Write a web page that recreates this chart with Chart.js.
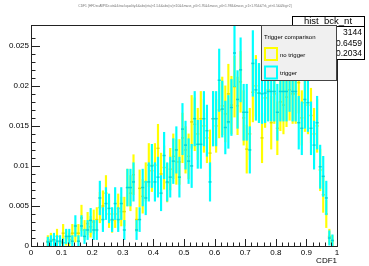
<!DOCTYPE html>
<html>
<head>
<meta charset="utf-8">
<script src="https://cdn.jsdelivr.net/npm/chart.js@4/dist/chart.umd.min.js"></script>
<style>
  html, body { margin: 0; padding: 0; background: #fff; }
</style>
</head>
<body>
<canvas id="cdf1" width="369" height="266"></canvas>
<script>
// bin centres of the 100-bin CDF1 histogram
const binCenters = [
  0.005, 0.015, 0.025, 0.035, 0.045, 0.055, 0.065, 0.075, 0.085, 0.095,
  0.105, 0.115, 0.125, 0.135, 0.145, 0.155, 0.165, 0.175, 0.185, 0.195,
  0.205, 0.215, 0.225, 0.235, 0.245, 0.255, 0.265, 0.275, 0.285, 0.295,
  0.305, 0.315, 0.325, 0.335, 0.345, 0.355, 0.365, 0.375, 0.385, 0.395,
  0.405, 0.415, 0.425, 0.435, 0.445, 0.455, 0.465, 0.475, 0.485, 0.495,
  0.505, 0.515, 0.525, 0.535, 0.545, 0.555, 0.565, 0.575, 0.585, 0.595,
  0.605, 0.615, 0.625, 0.635, 0.645, 0.655, 0.665, 0.675, 0.685, 0.695,
  0.705, 0.715, 0.725, 0.735, 0.745, 0.755, 0.765, 0.775, 0.785, 0.795,
  0.805, 0.815, 0.825, 0.835, 0.845, 0.855, 0.865, 0.875, 0.885, 0.895,
  0.905, 0.915, 0.925, 0.935, 0.945, 0.955, 0.965, 0.975, 0.985, 0.995
];

// "no trigger" (yellow)
const noTrigger = [
  null, null, null, null, null, 0.0006, 0.0008, 0.0007, 0.0012, 0.0004,
  0.0016, 0.0010, 0.0008, 0.0016, 0.0016, 0.0016, 0.0035, 0.0020, 0.0028, 0.0024,
  0.0030, 0.0033, 0.0048, 0.0050, 0.0066, 0.0040, 0.0032, 0.0040, 0.0047, 0.0043,
  0.0043, 0.0073, 0.0066, 0.0089, 0.0033, 0.0072, 0.0062, 0.0080, 0.0101, 0.0094,
  0.0101, 0.0122, 0.0090, 0.0098, 0.0079, 0.0096, 0.0112, 0.0105, 0.0105, 0.0135,
  0.0120, 0.0112, 0.0155, 0.0152, 0.0140, 0.0159, 0.0150, 0.0135, 0.0116, 0.0159,
  0.0150, 0.0170, 0.0175, 0.0165, 0.0190, 0.0176, 0.0199, 0.0175, 0.0205, 0.0160,
  0.0121, 0.0140, 0.0192, 0.0200, 0.0191, 0.0135, 0.0185, 0.0195, 0.0154, 0.0190,
  0.0147, 0.0180, 0.0176, 0.0186, 0.0195, 0.0190, 0.0190, 0.0204, 0.0160, 0.0179,
  0.0176, 0.0163, 0.0140, 0.0150, 0.0095, 0.0064, 0.0040, 0.0012, 0.0006, null
];
const noTriggerErr = [
  0, 0, 0, 0, 0, 0.0007, 0.0008, 0.0007, 0.0009, 0.0005,
  0.0011, 0.0009, 0.0008, 0.0011, 0.0011, 0.0011, 0.0016, 0.0012, 0.0014, 0.0013,
  0.0015, 0.0015, 0.0019, 0.0019, 0.0022, 0.0017, 0.0015, 0.0017, 0.0018, 0.0018,
  0.0018, 0.0023, 0.0022, 0.0025, 0.0015, 0.0023, 0.0021, 0.0024, 0.0027, 0.0026,
  0.0027, 0.0030, 0.0026, 0.0027, 0.0024, 0.0026, 0.0028, 0.0028, 0.0028, 0.0031,
  0.0029, 0.0028, 0.0033, 0.0033, 0.0032, 0.0034, 0.0033, 0.0031, 0.0029, 0.0034,
  0.0033, 0.0035, 0.0036, 0.0035, 0.0037, 0.0036, 0.0038, 0.0036, 0.0038, 0.0034,
  0.0030, 0.0032, 0.0037, 0.0038, 0.0037, 0.0031, 0.0037, 0.0038, 0.0033, 0.0037,
  0.0033, 0.0036, 0.0036, 0.0037, 0.0038, 0.0037, 0.0037, 0.0038, 0.0034, 0.0036,
  0.0036, 0.0034, 0.0032, 0.0033, 0.0026, 0.0022, 0.0017, 0.0009, 0.0007, 0
];

// "trigger" (cyan)
const trigger = [
  null, null, null, null, null, 0.0005, 0.0006, 0.0008, 0.0006, 0.0006,
  0.0004, 0.0012, 0.0012, 0.0006, 0.0025, 0.0006, 0.0025, 0.0012, 0.0020, 0.0032,
  0.0020, 0.0020, 0.0060, 0.0033, 0.0053, 0.0047, 0.0033, 0.0053, 0.0033, 0.0053,
  0.0020, 0.0073, 0.0073, 0.0080, 0.0020, 0.0033, 0.0073, 0.0060, 0.0080, 0.0100,
  0.0080, 0.0086, 0.0066, 0.0113, 0.0080, 0.0086, 0.0106, 0.0120, 0.0086, 0.0146,
  0.0126, 0.0106, 0.0100, 0.0159, 0.0127, 0.0127, 0.0159, 0.0144, 0.0080, 0.0159,
  0.0159, 0.0207, 0.0171, 0.0148, 0.0155, 0.0173, 0.0241, 0.0183, 0.0220, 0.0167,
  0.0167, 0.0120, 0.0228, 0.0195, 0.0191, 0.0190, 0.0191, 0.0193, 0.0193, 0.0193,
  0.0167, 0.0193, 0.0193, 0.0193, 0.0207, 0.0193, 0.0193, 0.0154, 0.0147, 0.0183,
  0.0179, 0.0147, 0.0126, 0.0154, 0.0099, 0.0087, 0.0060, 0.0010, 0.0007, null
];
const triggerErr = [
  0, 0, 0, 0, 0, 0.0006, 0.0007, 0.0008, 0.0007, 0.0007,
  0.0005, 0.0009, 0.0009, 0.0007, 0.0013, 0.0007, 0.0013, 0.0009, 0.0012, 0.0015,
  0.0012, 0.0012, 0.0021, 0.0015, 0.0020, 0.0018, 0.0015, 0.0020, 0.0015, 0.0020,
  0.0012, 0.0023, 0.0023, 0.0024, 0.0012, 0.0015, 0.0023, 0.0021, 0.0024, 0.0027,
  0.0024, 0.0025, 0.0022, 0.0029, 0.0024, 0.0025, 0.0028, 0.0029, 0.0025, 0.0032,
  0.0030, 0.0028, 0.0027, 0.0034, 0.0030, 0.0030, 0.0034, 0.0032, 0.0024, 0.0034,
  0.0034, 0.0039, 0.0035, 0.0033, 0.0033, 0.0035, 0.0042, 0.0036, 0.0040, 0.0035,
  0.0035, 0.0029, 0.0041, 0.0038, 0.0037, 0.0037, 0.0037, 0.0037, 0.0037, 0.0037,
  0.0035, 0.0037, 0.0037, 0.0037, 0.0039, 0.0037, 0.0037, 0.0033, 0.0033, 0.0036,
  0.0036, 0.0033, 0.0030, 0.0033, 0.0027, 0.0025, 0.0021, 0.0009, 0.0007, 0
];

const statsName = 'hist_bck_nt';
const statsRows = [['Entries', '3144'], ['Mean', '0.6459'], ['Std Dev', '0.2034']];
const legendTitle = 'Trigger comparison';
const plotTitle = 'CDF1 {HFDecAllPIDcuts&&trackquality&&abs(eta)<1.5&&abs(vz)<10&&mass_p0>1.95&&mass_p0<1.98&&mass_p1>1.95&&Trk_pt>0.5&&Sig>2}';

const FONT = "'Liberation Sans', Arial, Helvetica, sans-serif";

function isMult(v, s) {
    return Math.abs(v / s - Math.round(v / s)) < 1e-6;
}

// error bars as floating bars, centre values as short horizontal markers
function errBars(vals, errs) {
    const out = [];
    vals.forEach((v, i) => {
        if (v !== null) out.push({ x: binCenters[i], y: [v - errs[i], v + errs[i]] });
    });
    return out;
}
function centres(vals) {
    const out = [];
    vals.forEach((v, i) => {
        if (v !== null) out.push({ x: binCenters[i], y: v });
    });
    return out;
}

// ROOT-ish look: inward ticks, frame, title, stats box and legend
const rootLook = {
    id: 'rootLook',
    afterDatasetsDraw(chart) {
        const ctx = chart.ctx, a = chart.chartArea;
        const xs = chart.scales.x, ys = chart.scales.y;
        ctx.save();
        ctx.strokeStyle = '#222';
        ctx.lineWidth = 1;

        xs.ticks.forEach(t => {
            if (!isMult(t.value, 0.02)) return;
            const px = Math.round(xs.getPixelForValue(t.value)) + 0.5;
            const len = isMult(t.value, 0.1) ? 7 : 3.5;
            ctx.beginPath();
            ctx.moveTo(px, a.bottom);
            ctx.lineTo(px, a.bottom - len);
            ctx.stroke();
        });
        ys.ticks.forEach(t => {
            if (!isMult(t.value, 0.001)) return;
            const py = Math.round(ys.getPixelForValue(t.value)) + 0.5;
            const len = isMult(t.value, 0.005) ? 9 : 4.5;
            ctx.beginPath();
            ctx.moveTo(a.left, py);
            ctx.lineTo(a.left + len, py);
            ctx.stroke();
        });
        ctx.strokeRect(a.left + 0.5, a.top + 0.5, a.right - a.left, a.bottom - a.top);
        ctx.restore();
    },
    afterDraw(chart) {
        const ctx = chart.ctx;
        ctx.save();

        // title
        ctx.fillStyle = '#777';
        ctx.font = '3.3px ' + FONT;
        ctx.textAlign = 'center';
        ctx.textBaseline = 'middle';
        ctx.fillText(plotTitle, 185, 6);

        // stats box
        ctx.fillStyle = '#fff';
        ctx.fillRect(292.5, 16.5, 72, 43);
        ctx.strokeStyle = '#000';
        ctx.lineWidth = 1;
        ctx.strokeRect(292.5, 16.5, 72, 43);
        ctx.beginPath();
        ctx.moveTo(292.5, 26.5);
        ctx.lineTo(364.5, 26.5);
        ctx.stroke();
        ctx.fillStyle = '#000';
        ctx.font = '9.5px ' + FONT;
        ctx.textAlign = 'center';
        ctx.fillText(statsName, 328, 21.5);
        ctx.font = '8.5px ' + FONT;
        statsRows.forEach((r, i) => {
            const y = 33 + i * 10.5;
            ctx.textAlign = 'left';
            ctx.fillText(r[0], 295, y);
            ctx.textAlign = 'right';
            ctx.fillText(r[1], 362, y);
        });

        // legend
        ctx.fillStyle = '#f0f0f0';
        ctx.fillRect(261.5, 25.5, 75, 55);
        ctx.strokeStyle = '#444';
        ctx.strokeRect(261.5, 25.5, 75, 55);
        ctx.fillStyle = '#000';
        ctx.font = '6px ' + FONT;
        ctx.textAlign = 'left';
        ctx.fillText(legendTitle, 264, 37);
        const entries = chart.data.datasets.filter(d => d.type === 'bar');
        entries.forEach((d, i) => {
            const y0 = 48 + i * 18.5;
            ctx.strokeStyle = d.backgroundColor;
            ctx.lineWidth = 2;
            ctx.strokeRect(265, y0, 12, 12);
            ctx.fillStyle = '#000';
            ctx.fillText(d.label, 280, y0 + 7);
        });
        ctx.restore();
    }
};

const tickFont = { family: FONT, size: 8 };

new Chart(document.getElementById('cdf1'), {
    type: 'bar',
    data: {
        datasets: [
            { type: 'bar', label: 'no trigger', data: errBars(noTrigger, noTriggerErr),
              backgroundColor: '#ffff00', borderWidth: 0, barThickness: 1.5, grouped: false, order: 4 },
            { type: 'line', label: 'no trigger', data: centres(noTrigger), showLine: false,
              pointStyle: 'line', pointRadius: 1.5, pointBorderWidth: 1.5,
              borderColor: '#e0e000', backgroundColor: '#e0e000', order: 3 },
            { type: 'bar', label: 'trigger', data: errBars(trigger, triggerErr),
              backgroundColor: '#00ffff', borderWidth: 0, barThickness: 1.5, grouped: false, order: 2 },
            { type: 'line', label: 'trigger', data: centres(trigger), showLine: false,
              pointStyle: 'line', pointRadius: 1.5, pointBorderWidth: 1.5,
              borderColor: '#00d8d8', backgroundColor: '#00d8d8', order: 1 }
        ]
    },
    options: {
        responsive: false,
        animation: false,
        devicePixelRatio: 1,
        layout: { padding: { left: 0, right: 32, top: 25, bottom: 0 } },
        plugins: {
            legend: { display: false },
            title: { display: false },
            tooltip: { enabled: false }
        },
        scales: {
            x: {
                type: 'linear',
                min: 0,
                max: 1,
                offset: false,
                grid: { display: false, drawTicks: false, offset: false },
                border: { display: false },
                ticks: {
                    stepSize: 0.02,
                    autoSkip: false,
                    maxRotation: 0,
                    padding: 2,
                    color: '#000',
                    font: tickFont,
                    callback: v => isMult(v, 0.1) ? String(Number(v.toFixed(1))) : ''
                },
                title: { display: true, text: 'CDF1', align: 'end', padding: 0, color: '#000', font: tickFont },
                afterFit(s) { s.height = 20; }
            },
            y: {
                min: 0,
                max: 0.0276,
                grid: { display: false, drawTicks: false },
                border: { display: false },
                ticks: {
                    stepSize: 0.001,
                    autoSkip: false,
                    padding: 2,
                    color: '#000',
                    font: tickFont,
                    callback: v => isMult(v, 0.005) ? String(Number(v.toFixed(3))) : ''
                },
                afterFit(s) { s.width = 31; }
            }
        }
    },
    plugins: [rootLook]
});
</script>
</body>
</html>
